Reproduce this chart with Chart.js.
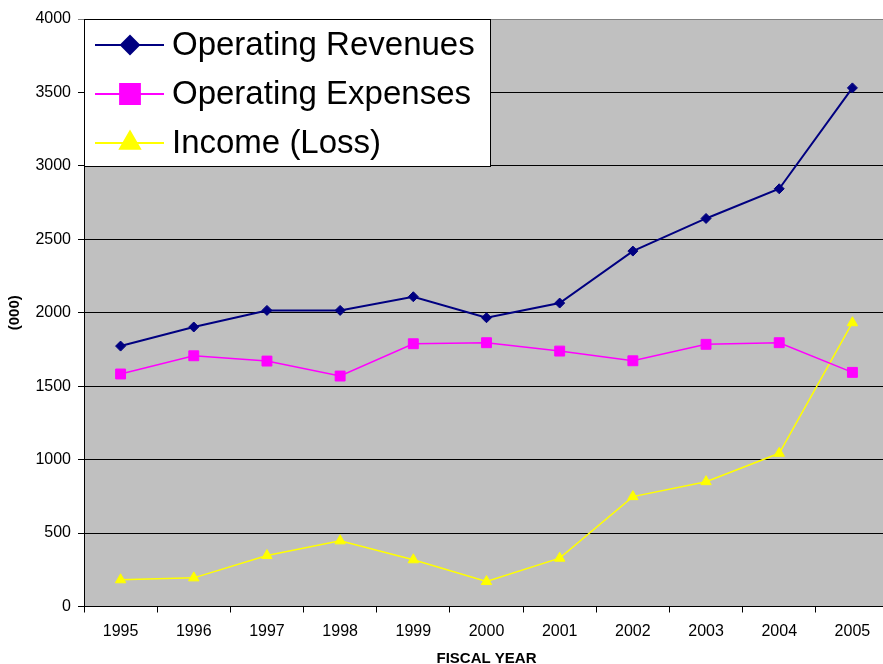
<!DOCTYPE html>
<html>
<head>
<meta charset="utf-8">
<script src="https://cdn.jsdelivr.net/npm/chart.js@4"></script>
<style>
  html, body { margin: 0; padding: 0; background: #fff; overflow: hidden; }
  #wrap { width: 883px; height: 664px; overflow: hidden; }
</style>
</head>
<body>
<div id="wrap"><canvas id="lineChart" width="897" height="668"></canvas></div>
<script>
var years = ['1995','1996','1997','1998','1999','2000','2001','2002','2003','2004','2005'];
var revenues = [1773, 1903, 2016, 2016, 2109, 1966, 2066, 2420, 2642, 2844, 3531];
var expenses = [1583, 1707, 1671, 1569, 1789, 1796, 1739, 1673, 1785, 1796, 1594];
var income   = [182, 195, 347, 447, 318, 170, 329, 748, 850, 1043, 1932];

// gray plot background
var plotBg = {
  id: 'plotBg',
  beforeDraw: function(chart) {
    var a = chart.chartArea, c = chart.ctx;
    c.save();
    c.fillStyle = '#C0C0C0';
    c.fillRect(a.left, a.top, a.right - a.left, a.bottom - a.top);
    c.restore();
  }
};

// legend box sitting in the top-left of the plot
var boxLegend = {
  id: 'boxLegend',
  afterDraw: function(chart) {
    var c = chart.ctx, a = chart.chartArea;
    var x0 = a.left, y0 = a.top, w = 406, h = 147;
    c.save();
    c.fillStyle = '#fff';
    c.fillRect(x0, y0, w, h);
    c.strokeStyle = '#000';
    c.lineWidth = 1;
    c.strokeRect(x0 + 0.5, y0 + 0.5, w, h);
    var rows = [26, 75, 124];
    var sizes = [9, 14, 11.5];
    chart.data.datasets.forEach(function(ds, i) {
      var y = y0 + rows[i];
      c.strokeStyle = ds.borderColor;
      c.lineWidth = 2;
      c.beginPath();
      c.moveTo(x0 + 11, y);
      c.lineTo(x0 + 80, y);
      c.stroke();
      c.fillStyle = ds.backgroundColor;
      c.strokeStyle = ds.borderColor;
      Chart.helpers.drawPoint(c, {pointStyle: ds.pointStyle, radius: sizes[i], rotation: 0, borderWidth: 1}, x0 + 46, y);
      c.fillStyle = '#000';
      c.font = '33px Arial, "Liberation Sans", sans-serif';
      c.textBaseline = 'middle';
      c.textAlign = 'left';
      c.fillText(ds.label, x0 + 88, y + 1);
    });
    c.restore();
  }
};

var ctx = document.getElementById('lineChart').getContext('2d');
var lineChart = new Chart(ctx, {
  type: 'line',
  data: {
    labels: years,
    datasets: [
      {
        label: 'Operating Revenues',
        data: revenues,
        borderColor: '#000080',
        backgroundColor: '#000080',
        borderWidth: 2,
        pointStyle: 'rectRot',
        pointRadius: 5,
        pointBorderWidth: 1,
        tension: 0
      },
      {
        label: 'Operating Expenses',
        data: expenses,
        borderColor: '#FF00FF',
        backgroundColor: '#FF00FF',
        borderWidth: 1.5,
        pointStyle: 'rect',
        pointRadius: 7,
        pointBorderWidth: 1,
        tension: 0
      },
      {
        label: 'Income (Loss)',
        data: income,
        borderColor: '#FFFF00',
        backgroundColor: '#FFFF00',
        borderWidth: 1.5,
        pointStyle: 'triangle',
        pointRadius: 6,
        pointBorderWidth: 1,
        tension: 0
      }
    ]
  },
  options: {
    responsive: false,
    animation: false,
    layout: { padding: { top: 19, right: 1, left: 0, bottom: 0 } },
    plugins: {
      legend: { display: false },
      tooltip: { enabled: false }
    },
    scales: {
      x: {
        offset: true,
        grid: { offset: true, drawOnChartArea: false, color: '#000', tickLength: 6 },
        border: { color: '#000' },
        ticks: { color: '#000', font: { family: 'Arial', size: 16 }, padding: 9, maxRotation: 0 },
        title: { display: true, text: 'FISCAL YEAR', color: '#000', font: { family: 'Arial', size: 15, weight: 'bold' }, padding: { top: 0, bottom: 0 } },
        afterFit: function(s) { s.height = 61.5; }
      },
      y: {
        min: 0,
        max: 4000,
        ticks: {
          stepSize: 500, color: '#000', font: { family: 'Arial', size: 16 }, padding: 7,
          callback: function(v) { return String(v); }
        },
        grid: {
          color: function(c) { return c.tick && c.tick.value === 4000 ? '#808080' : '#000'; },
          tickLength: 6
        },
        border: { color: '#000' },
        title: { display: true, text: '(000)', color: '#000', font: { family: 'Arial', size: 15, weight: 'bold' }, padding: { top: 6, bottom: 0 } },
        afterFit: function(s) { s.width = 84; }
      }
    }
  },
  plugins: [plotBg, boxLegend]
});
</script>
</body>
</html>
